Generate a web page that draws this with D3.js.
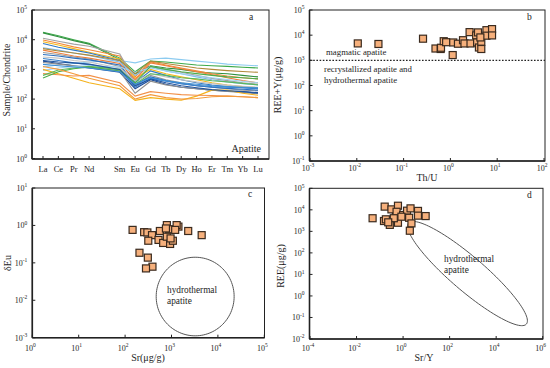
<!DOCTYPE html>
<html><head><meta charset="utf-8">
<script src="https://cdn.jsdelivr.net/npm/d3@7"></script>
<style>
body{margin:0;background:#fff}
svg{display:block}
text{font-family:"Liberation Serif","Times New Roman",serif;fill:#1e1e1e}
</style>
</head><body>
<svg id="chart" width="550" height="368"></svg>
<script>
// ---------- DATA ----------
const axisElements = ["La","Ce","Pr","Nd","Pm","Sm","Eu","Gd","Tb","Dy","Ho","Er","Tm","Yb","Lu"];
const reeElements  = ["La","Ce","Pr","Nd","Sm","Eu","Gd","Tb","Dy","Ho","Er","Tm","Yb","Lu"];
const patternColors = ["#3daa4a","#2f8f3f","#8ccbf0","#f28a3a","#a3a3a3","#f6b81c","#2f78c4","#7fbbe8",
  "#f07e3a","#9a9a9a","#2a6fc0","#c4c4c4","#3a82cc","#1f4f9a","#8f8f8f","#9fd3f2",
  "#f4b11a","#f29048","#5cb85c","#4cae4c","#b08a3a","#f39a3c","#22559e","#3d8fd6"];
const reePatterns = [
  [17800,13500,10000,7600,2400,830,1900,1780,1580,1410,1320,1260,1180,1120],
  [17000,12600,9300,7100,2140,710,1320,1120,1000,830,760,710,630,560],
  [1200,1410,1580,1780,2000,1660,2240,2400,2140,1900,1700,1510,1410,1320],
  [9800,7600,5750,4570,2820,560,1780,1410,1120,890,710,600,525,480],
  [11200,8900,7100,6000,3300,400,1260,1000,800,630,500,420,355,316],
  [8500,6600,5000,3800,2240,500,1000,710,560,450,355,300,263,240],
  [7400,5600,4470,3550,2000,355,890,630,450,355,300,263,240,224],
  [5370,4470,3550,2950,1780,630,1260,890,710,560,450,380,331,302],
  [4470,3550,2820,2400,1580,450,1660,1320,1050,830,660,525,420,355],
  [3700,3160,2630,2240,1260,280,630,450,355,280,250,224,200,190],
  [3160,2820,2400,2090,1410,316,560,420,330,280,250,230,214,200],
  [2630,2400,2000,1780,1120,400,710,560,450,380,331,295,270,251],
  [2340,2000,1660,1450,955,251,500,400,331,288,263,251,240,229],
  [1900,1580,1320,1120,800,224,450,316,251,224,200,186,178,166],
  [1700,1510,1320,1200,890,158,400,302,251,224,200,182,166,151],
  [930,1120,1260,1320,1200,800,1120,890,710,600,525,457,400,355],
  [1000,710,500,355,224,91,112,100,91,126,200,200,158,135],
  [720,660,600,630,355,126,178,158,141,135,132,126,120,112],
  [630,955,1120,1260,1000,316,710,630,525,479,417,380,339,302],
  [510,830,1050,1200,890,355,1260,1000,830,720,630,562,525,479],
  [5000,4170,3550,3020,2000,710,1900,1580,1320,1120,1000,910,850,800],
  [1260,1000,710,500,282,100,141,112,100,105,120,126,120,112],
  [2000,1780,1660,1510,1000,282,479,355,282,240,209,191,178,158],
  [1480,1320,1200,1120,830,316,525,417,355,316,282,263,251,240]
];

// panel b: Th/U vs REE+Y
const thU  = [0.0105,0.029,0.26,0.48,0.62,0.63,0.72,0.81,1.15,1.12,1.45,1.86,2.0,2.57,2.69,3.55,3.89,3.72,4.07,4.57,4.57,5.89,5.89,7.76,7.76,4.37];
const reeY = [4700,4470,7240,2950,2820,3160,5750,5250,5130,1620,4570,6310,4680,13200,4680,9770,12900,5130,3240,2820,5500,15800,9550,17400,9770,8130];

// panel c: Sr vs dEu
const srC = [145,257,302,380,316,562,525,661,794,794,891,933,1070,1410,1290,1200,2290,4470,204,309,389,282,759,955];
const dEu = [0.76,0.66,0.65,0.55,0.39,0.71,0.41,0.34,1.02,0.50,0.79,0.32,0.39,0.93,1.02,0.76,0.71,0.55,0.186,0.138,0.079,0.071,0.83,0.45];

// panel d: Sr/Y vs REE
const srY  = [0.049,0.162,0.151,0.182,0.269,0.316,0.603,0.49,0.525,0.603,1.0,1.48,1.82,2.09,2.29,1.95,4.37,4.37,9.33,0.85,0.40,0.23];
const reeD = [4070,14100,3020,3630,2000,10500,15500,4790,8130,2510,5750,9120,4270,11700,2340,1070,8910,5370,5130,4790,4070,2630];

// hydrothermal fields (centre and semi-axis vectors in decades of log10)
const fieldC = {cx:3.51, cy:-1.9, a:[0.84,0], b:[0,1.05]};
const fieldD = {cx:2.77, cy:1.04, a:[2.53,-2.345], b:[-0.47,-0.60]};

// tick exponents
const aTicksY = [0,1,2,3,4,5];
const bTicksX = [-3,-2,-1,0,1,2];
const bTicksY = [-1,0,1,2,3,4,5];
const cTicksX = [0,1,2,3,4,5];
const cTicksY = [-3,-2,-1,0,1];
const dTicksX = [-4,-2,0,2,4,6];
const dTicksY = [-2,-1,0,1,2,3,4,5];

// ---------- DRAWING ----------
const svg = d3.select("#chart");
const INK = "#222";

function pow10Label(g, x, y, exp, anchor) {
  const t = g.append("text").attr("x", x).attr("y", y).attr("text-anchor", anchor).style("font-size","8px");
  t.append("tspan").text("10");
  t.append("tspan").attr("dy", -3.8).style("font-size","5.5px").text(String(exp));
  return t;
}

function frame(x0, x1, y0, y1) {
  svg.append("rect").attr("x",x0).attr("y",y0).attr("width",x1-x0).attr("height",y1-y0)
     .attr("fill","none").attr("stroke",INK).attr("stroke-width",1);
  svg.append("line").attr("x1",x0).attr("x2",x0).attr("y1",y0).attr("y2",y1).attr("stroke",INK).attr("stroke-width",1.6);
  svg.append("line").attr("x1",x0).attr("x2",x1).attr("y1",y1).attr("y2",y1).attr("stroke",INK).attr("stroke-width",1.6);
}

function yTicks(x, y, exps, x0) {
  exps.forEach(e => {
    const yy = y(Math.pow(10, e));
    svg.append("line").attr("x1",x0).attr("x2",x0+3).attr("y1",yy).attr("y2",yy).attr("stroke",INK).attr("stroke-width",1);
    pow10Label(svg, x0-5, yy+3, e, "end");
  });
}
function xTicks(x, exps, y1, labY) {
  exps.forEach(e => {
    const xx = x(Math.pow(10, e));
    svg.append("line").attr("x1",xx).attr("x2",xx).attr("y1",y1).attr("y2",y1-3).attr("stroke",INK).attr("stroke-width",1);
    pow10Label(svg, xx-2, labY, e, "middle");
  });
}
function title(x, y, txt, rot, size) {
  const t = svg.append("text").attr("text-anchor","middle").style("font-size",(size||10)+"px").text(txt);
  if (rot) t.attr("transform",`translate(${x},${y}) rotate(-90)`);
  else t.attr("x",x).attr("y",y);
  return t;
}
function squares(xs, ys, x, y) {
  const s = 7;
  svg.append("g").selectAll("rect").data(xs.map((v,i)=>[v, ys[i]])).join("rect")
    .attr("x", d => x(d[0]) - s/2).attr("y", d => y(d[1]) - s/2)
    .attr("width", s).attr("height", s)
    .attr("fill", "#f6b07c").attr("stroke", "#3a2a1e").attr("stroke-width", 1.2);
}
function ellipse(f, x, y) {
  const pts = d3.range(0, 361, 3).map(deg => {
    const t = deg * Math.PI / 180;
    const lx = f.cx + Math.cos(t)*f.a[0] + Math.sin(t)*f.b[0];
    const ly = f.cy + Math.cos(t)*f.a[1] + Math.sin(t)*f.b[1];
    return [x(Math.pow(10,lx)), y(Math.pow(10,ly))];
  });
  svg.append("path").attr("d", d3.line().curve(d3.curveCardinalClosed)(pts.slice(0,-1)))
    .attr("fill","none").attr("stroke","#555").attr("stroke-width",1);
}

// ----- Panel a -----
{
  const x = d3.scalePoint().domain(axisElements).range([43, 258]);
  const y = d3.scaleLog().domain([1, 1e5]).range([158.5, 10]);
  const line = d3.line().x((d,i) => x(reeElements[i])).y(d => y(d));
  svg.append("g").selectAll("path").data(reePatterns).join("path")
    .attr("d", line).attr("fill","none")
    .attr("stroke", (d,i) => patternColors[i]).attr("stroke-width", 1.1);
  frame(32, 269, 10, 159);
  yTicks(x, y, aTicksY, 32);
  axisElements.forEach(el => {
    svg.append("line").attr("x1",x(el)).attr("x2",x(el)).attr("y1",159).attr("y2",156).attr("stroke",INK);
    if (el !== "Pm") svg.append("text").attr("x",x(el)).attr("y",172).attr("text-anchor","middle").style("font-size","8.5px").text(el);
  });
  title(10, 80, "Sample/Chondrite", true);
  svg.append("text").attr("x",261).attr("y",152).attr("text-anchor","end").style("font-size","10px").text("Apatite");
  svg.append("text").attr("x",249).attr("y",20).style("font-size","9.5px").text("a");
}

// ----- Panel b -----
{
  const x = d3.scaleLog().domain([1e-3, 1e2]).range([310, 544]);
  const y = d3.scaleLog().domain([0.1, 1e5]).range([161, 10]);
  frame(309.5, 545, 10, 161);
  svg.append("line").attr("x1",310).attr("x2",545).attr("y1",y(1000)).attr("y2",y(1000))
     .attr("stroke",INK).attr("stroke-width",1.2).attr("stroke-dasharray","1.6,1.6");
  squares(thU, reeY, x, y);
  yTicks(x, y, bTicksY, 309.5);
  xTicks(x, bTicksX, 161, 170.5);
  title(427, 181, "Th/U");
  title(281, 85, "REE+Y(μg/g)", true);
  svg.append("text").attr("x",326).attr("y",54.5).style("font-size","8.8px").text("magmatic apatite");
  svg.append("text").attr("x",324).attr("y",71.5).style("font-size","8.8px").text("recrystallized apatite and");
  svg.append("text").attr("x",324).attr("y",82.5).style("font-size","8.8px").text("hydrothermal apatite");
  svg.append("text").attr("x",527).attr("y",20).style("font-size","9.5px").text("b");
}

// ----- Panel c -----
{
  const x = d3.scaleLog().domain([1, 1e5]).range([32.3, 264.3]);
  const y = d3.scaleLog().domain([1e-3, 10]).range([337.7, 188]);
  frame(32.3, 264.5, 188, 337.7);
  ellipse(fieldC, x, y);
  squares(srC, dEu, x, y);
  yTicks(x, y, cTicksY, 32.3);
  xTicks(x, cTicksX, 337.7, 350.5);
  title(148, 361, "Sr(μg/g)");
  title(11, 263, "δEu", true);
  svg.append("text").attr("x",167).attr("y",292.5).style("font-size","9.3px").text("hydrothermal");
  svg.append("text").attr("x",167).attr("y",303.5).style("font-size","9.3px").text("apatite");
  svg.append("text").attr("x",248).attr("y",197).style("font-size","9.5px").text("c");
}

// ----- Panel d -----
{
  const x = d3.scaleLog().domain([1e-4, 1e6]).range([310, 542.7]);
  const y = d3.scaleLog().domain([1e-2, 1e5]).range([339, 188.3]);
  frame(309.5, 543, 188.3, 339);
  ellipse(fieldD, x, y);
  squares(srY, reeD, x, y);
  yTicks(x, y, dTicksY, 309.5);
  xTicks(x, dTicksX, 339, 351);
  title(424, 361, "Sr/Y");
  title(284, 266, "REE(μg/g)", true);
  svg.append("text").attr("x",444).attr("y",262).style("font-size","9.3px").text("hydrothermal");
  svg.append("text").attr("x",444).attr("y",273).style("font-size","9.3px").text("apatite");
  svg.append("text").attr("x",527).attr("y",198).style("font-size","9.5px").text("d");
}
</script>
</body></html>
